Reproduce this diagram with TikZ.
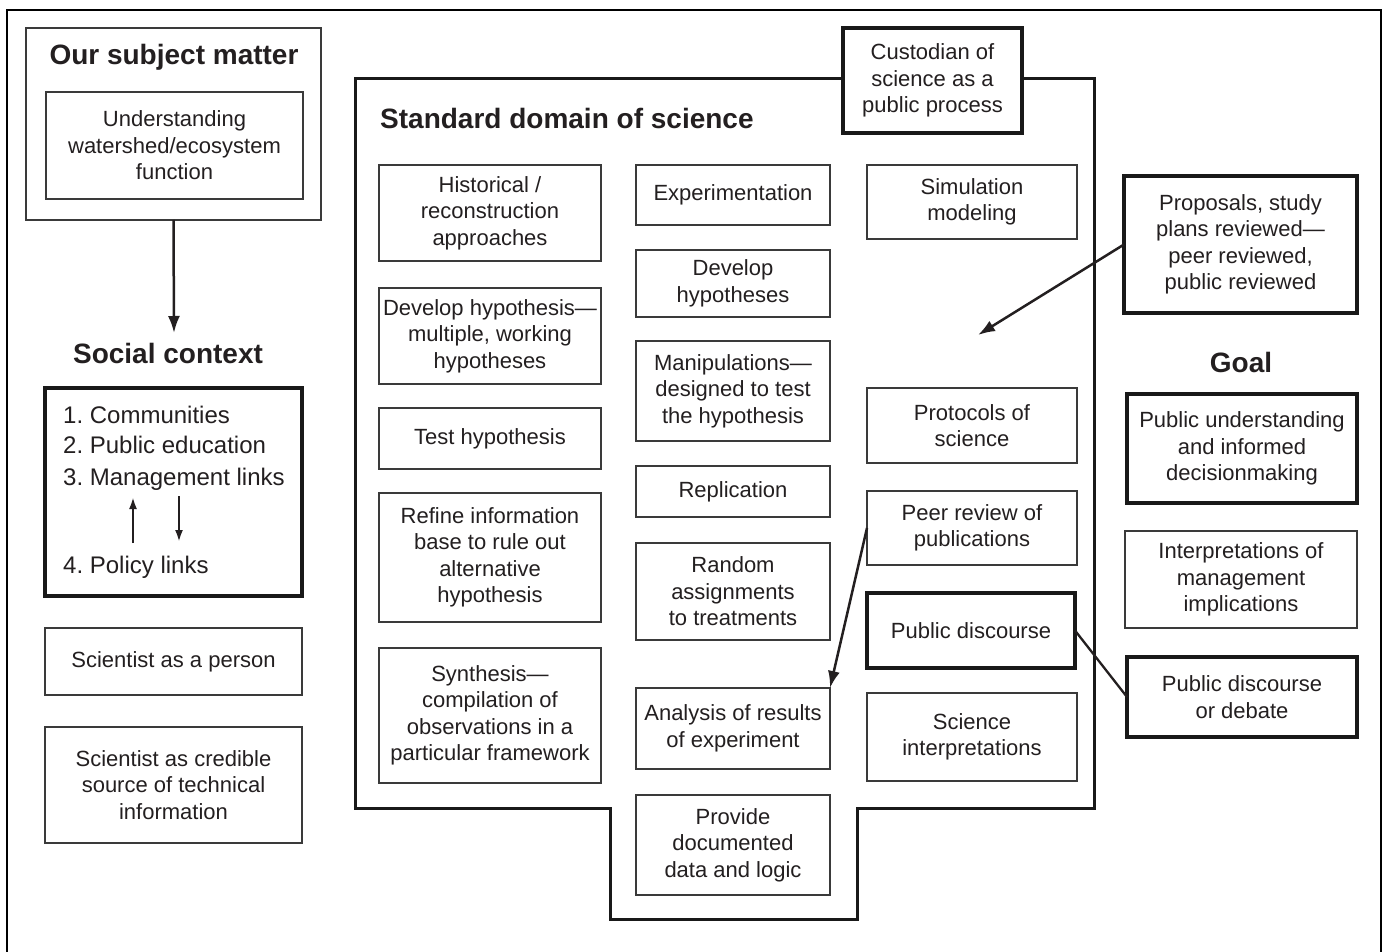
\documentclass[tikz,border=0pt]{standalone}
\usepackage{fontspec}
\setmainfont{Liberation Sans}
\usetikzlibrary{arrows.meta}
\definecolor{ink}{HTML}{231F20}
\definecolor{edge}{HTML}{3A3A3A}
\frenchspacing
\newcommand\placebox[7]{\node[#1, minimum width={#5pt-#3pt}, minimum height={#6pt-#4pt}] (#2) at ({(#3+#5)/2},{(#4+#6)/2}) {#7};}
\tikzset{
  thinbox/.style={draw=edge, line width=1.4pt, fill=white, inner sep=2pt, outer sep=0pt,
    align=center, text=ink, font=\fontsize{22}{26.5}\selectfont},
  thickbox/.style={thinbox, draw=black!90, line width=4pt},
  titletext/.style={text=ink, font=\bfseries\fontsize{28}{33}\selectfont, inner sep=0pt},
  listitem/.style={text=ink, font=\fontsize{24}{28}\selectfont, anchor=base west, inner sep=0pt},
  arrowline/.style={draw=ink, line width=2.5pt, -{Latex[length=17pt,width=12pt]}},
  smallarrow/.style={draw=ink, line width=2.3pt, -{Latex[length=12pt,width=8pt]}},
  plainline/.style={draw=ink, line width=2.3pt}
}
\begin{document}
\begin{tikzpicture}[x=1pt, y=-1pt]
\useasboundingbox (0,0) rectangle (1390,952);
% outer frame (open at the bottom)
\draw[line width=2.6pt, draw=black] (7,952) -- (7,10) -- (1381,10) -- (1381,952);

% left column
\placebox{thinbox}{subj}{26}{28}{321}{220}{}
\node[titletext] (subjtitle) at (174,57) {Our subject matter};
\placebox{thinbox}{underst}{46}{92}{303}{199}{Understanding\\watershed/ecosystem\\function}
\node[titletext] (socialtitle) at (168,353) {Social context};
\placebox{thickbox}{social}{45}{388}{302}{596}{}
\node[listitem] (l1) at (63,423.5) {1. Communities};
\node[listitem] (l2) at (63,453.5) {2. Public education};
\node[listitem] (l3) at (63,485.5) {3. Management links};
\node[listitem] (l4) at (63,573.5) {4. Policy links};
\coordinate (su1) at (133,543);
\coordinate (su2) at (133,497);
\coordinate (sd1) at (179,496);
\coordinate (sd2) at (179,542);
\draw[smallarrow] (su1) -- (su2);
\draw[smallarrow] (sd1) -- (sd2);
\placebox{thinbox}{person}{45}{628}{302}{695}{Scientist as a person}
\placebox{thinbox}{credible}{45}{727}{302}{843}{Scientist as credible\\source of technical\\information}

% standard domain outline
\draw[line width=3pt, draw=black!90] (355,79) -- (1094,79) -- (1094,808) -- (857,808) -- (857,919) -- (610,919) -- (610,808) -- (355,808) -- cycle;
\placebox{thickbox}{custodian}{843}{28}{1022}{133}{Custodian of\\science as a\\public process}
\node[titletext, anchor=west] (domaintitle) at (380,118) {Standard domain of science};

% column 1
\placebox{thinbox}{hist}{379}{165}{601}{261}{Historical /\\reconstruction\\approaches}
\placebox{thinbox}{devhyp}{379}{288}{601}{384}{Develop hypothesis—\\multiple, working\\hypotheses}
\placebox{thinbox}{testhyp}{379}{408}{601}{469}{Test hypothesis}
\placebox{thinbox}{refine}{379}{493}{601}{622}{Refine information\\base to rule out\\alternative\\hypothesis}
\placebox{thinbox}{synth}{379}{648}{601}{783}{Synthesis—\\compilation of\\observations in a\\particular framework}

% column 2
\placebox{thinbox}{exper}{636}{165}{830}{225}{Experimentation}
\placebox{thinbox}{devhyps}{636}{250}{830}{317}{Develop\\hypotheses}
\placebox{thinbox}{manip}{636}{341}{830}{441}{Manipulations—\\designed to test\\the hypothesis}
\placebox{thinbox}{repl}{636}{466}{830}{517}{Replication}
\placebox{thinbox}{random}{636}{543}{830}{640}{Random\\assignments\\to treatments}
\placebox{thinbox}{analysis}{636}{688}{830}{769}{Analysis of results\\of experiment}
\placebox{thinbox}{provide}{636}{795}{830}{895}{Provide\\documented\\data and logic}

% column 3
\placebox{thinbox}{sim}{867}{165}{1077}{239}{Simulation\\modeling}
\placebox{thinbox}{protocols}{867}{388}{1077}{463}{Protocols of\\science}
\placebox{thinbox}{peer}{867}{491}{1077}{565}{Peer review of\\publications}
\placebox{thickbox}{pubdisc}{867}{593}{1075}{668}{Public discourse}
\placebox{thinbox}{sciint}{867}{693}{1077}{781}{Science\\interpretations}

% right column
\placebox{thickbox}{proposals}{1124}{176}{1357}{313}{Proposals, study\\plans reviewed—\\peer reviewed,\\public reviewed}
\node[titletext] (goaltitle) at (1241,362) {Goal};
\placebox{thickbox}{understanding}{1127}{394}{1357}{503}{Public understanding\\and informed\\decisionmaking}
\placebox{thinbox}{mgmt}{1125}{531}{1357}{628}{Interpretations of\\management\\implications}
\placebox{thickbox}{debate}{1127}{657}{1357}{737}{Public discourse\\or debate}

% connectors
\coordinate (socialtip) at (174,333);
\draw[arrowline] (subj.south) -- (socialtip);
\coordinate (proptip) at (978,335);
\draw[arrowline] (proposals.west) -- (proptip);
\draw[arrowline] (peer.west) -- (analysis.north east);
\draw[plainline] (pubdisc.east) -- (debate.west);
\end{tikzpicture}
\end{document}
